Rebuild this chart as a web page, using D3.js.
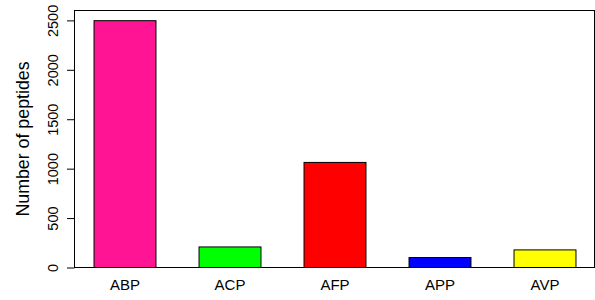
<!DOCTYPE html>
<html>
<head>
<meta charset="utf-8">
<script src="https://cdn.jsdelivr.net/npm/d3@7"></script>
<style>
  body { margin: 0; background: #fff; }
  text { font-family: "Liberation Sans", Arial, sans-serif; fill: #000; }
</style>
</head>
<body>
<script>
// peptide counts per class
var categories = ["ABP", "ACP", "AFP", "APP", "AVP"];
var counts = [2497, 208, 1063, 101, 178];
var barColors = ["#ff1493", "#00ff00", "#ff0000", "#0000ff", "#ffff00"];
var yTicks = [0, 500, 1000, 1500, 2000, 2500];

var W = 595, H = 300;
// plot box (note: "top" is taken by window.top, so use other names)
var boxL = 74.5, boxR = 594.5, boxT = 10.5, boxB = 267.5;

var svg = d3.select("body").append("svg")
  .attr("width", W)
  .attr("height", H);

var x = d3.scaleBand()
  .domain(categories)
  .range([boxL, 595.5])
  .paddingInner(0.41)
  .paddingOuter(0.186);

var y = d3.scaleLinear().domain([0, 2600]).range([boxB, boxT]);

// bars
svg.selectAll("rect.bar")
  .data(categories)
  .enter()
  .append("rect")
  .attr("class", "bar")
  .attr("x", function(d) { return x(d); })
  .attr("y", function(d, i) { return y(counts[i]); })
  .attr("width", x.bandwidth())
  .attr("height", function(d, i) { return y(0) - y(counts[i]); })
  .attr("fill", function(d, i) { return barColors[i]; })
  .attr("stroke", "#000")
  .attr("stroke-width", 1);

// box around the plot
svg.append("rect")
  .attr("x", boxL)
  .attr("y", boxT)
  .attr("width", boxR - boxL)
  .attr("height", boxB - boxT)
  .attr("fill", "none")
  .attr("stroke", "#000")
  .attr("stroke-width", 1);

// y axis, labels rotated like R
var yAxis = svg.append("g")
  .attr("transform", "translate(" + boxL + ",0)")
  .call(d3.axisLeft(y).tickValues(yTicks).tickFormat(d3.format("d")).tickSize(7.5).tickPadding(0));
yAxis.select(".domain").remove();
yAxis.selectAll("line").attr("stroke", "#000");
yAxis.selectAll("text")
  .attr("x", 0)
  .attr("dy", 0)
  .attr("transform", "translate(-17,0) rotate(-90)")
  .attr("text-anchor", "middle")
  .style("font-size", "14.5px")
  .style("font-family", "Liberation Sans, Arial, sans-serif");

// category labels
svg.selectAll("text.cat")
  .data(categories)
  .enter()
  .append("text")
  .attr("class", "cat")
  .attr("x", function(d) { return x(d) + x.bandwidth() / 2; })
  .attr("y", 290)
  .attr("text-anchor", "middle")
  .style("font-size", "15px")
  .text(function(d) { return d; });

// y title
svg.append("text")
  .attr("transform", "translate(29," + ((boxT + boxB) / 2) + ") rotate(-90)")
  .attr("text-anchor", "middle")
  .style("font-size", "17.8px")
  .text("Number of peptides");
</script>
</body>
</html>
